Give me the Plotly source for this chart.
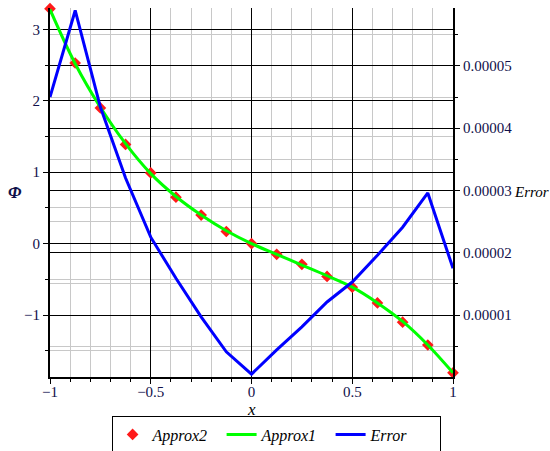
import plotly.graph_objects as go

xs = [-1, -0.875, -0.75, -0.625, -0.5, -0.375, -0.25, -0.125, 0,
      0.125, 0.25, 0.375, 0.5, 0.625, 0.75, 0.875, 1]
approx2 = [3.29, 2.53, 1.90, 1.39, 0.99, 0.65, 0.40, 0.17, 0.00,
           -0.15, -0.29, -0.46, -0.61, -0.83, -1.10, -1.42, -1.81]
approx1 = [3.28, 2.52, 1.91, 1.40, 0.98, 0.66, 0.40, 0.18, 0.00,
           -0.15, -0.30, -0.45, -0.61, -0.83, -1.09, -1.42, -1.81]
error = [4.50e-5, 5.89e-5, 4.34e-5, 3.20e-5, 2.25e-5, 1.59e-5, 0.97e-5, 0.41e-5, 0.05e-5,
         0.44e-5, 0.81e-5, 1.21e-5, 1.53e-5, 1.96e-5, 2.41e-5, 2.96e-5, 1.75e-5]

x_ticks = [-1, -0.5, 0, 0.5, 1]
x_tick_text = ["\u22121", "\u22120.5", "0", "0.5", "1"]
y_ticks = [-1, 0, 1, 2, 3]
y_tick_text = ["\u22121", "0", "1", "2", "3"]
y2_ticks = [1e-5, 2e-5, 3e-5, 4e-5, 5e-5]
y2_tick_text = ["0.00001", "0.00002", "0.00003", "0.00004", "0.00005"]

FONT = "Liberation Serif, Times New Roman, serif"
TXT = "#10104a"
TICKFONT = dict(family=FONT, size=15, color=TXT)

fig = go.Figure()
fig.add_trace(go.Scatter(x=xs, y=approx2, mode="markers", name="Approx2",
                         marker=dict(symbol="diamond", color="#ff1a1a", size=9),
                         cliponaxis=False))
fig.add_trace(go.Scatter(x=xs, y=approx1, mode="lines", name="Approx1",
                         line=dict(color="#00ff00", width=3, shape="spline")))
fig.add_trace(go.Scatter(x=xs, y=error, mode="lines", name="Error", yaxis="y2",
                         line=dict(color="#0000ff", width=3)))

grid_minor = "#c8c8c8"
fig.update_layout(
    width=550, height=451,
    margin=dict(l=50, r=97, t=8, b=74, autoexpand=False),
    paper_bgcolor="white", plot_bgcolor="white",
    font=dict(family=FONT, size=14, color=TXT),
    showlegend=True,
    legend=dict(orientation="h", xref="container", yref="container",
                x=0.502, xanchor="center", y=0.0366, yanchor="middle",
                bordercolor="black", borderwidth=1,
                font=dict(family=FONT, size=16, style="italic", color="black"),
                itemwidth=30, tracegroupgap=0, entrywidth=64, entrywidthmode="pixels"),
    xaxis=dict(range=[-1, 1], tickvals=x_ticks, ticktext=x_tick_text, tickfont=TICKFONT,
               showgrid=True, gridcolor="black", gridwidth=1, zeroline=False,
               showline=True, linecolor="black", linewidth=2,
               ticks="outside", ticklen=5, tickcolor="black", ticklabelstandoff=-5,
               minor=dict(dtick=0.1, tick0=-1, showgrid=True, gridcolor=grid_minor,
                          ticks="outside", ticklen=3, tickcolor="black")),
    yaxis=dict(range=[-1.868, 3.30], tickvals=y_ticks, ticktext=y_tick_text, tickfont=TICKFONT,
               showgrid=True, gridcolor="black", gridwidth=1, zeroline=False,
               showline=True, linecolor="black", linewidth=2,
               ticks="outside", ticklen=5, tickcolor="black",
               minor=dict(dtick=0.5, tick0=0, showgrid=True, gridcolor=grid_minor,
                          ticks="outside", ticklen=3, tickcolor="black")),
    yaxis2=dict(overlaying="y", side="right", range=[0.00000005, 0.0000593],
                tickvals=y2_ticks, ticktext=y2_tick_text, tickfont=TICKFONT,
                showgrid=True, gridcolor="black", gridwidth=1, zeroline=False,
                showline=True, linecolor="black", linewidth=2,
                ticks="outside", ticklen=5, tickcolor="black",
                minor=dict(dtick=0.5e-5, tick0=0, showgrid=True, gridcolor=grid_minor,
                           ticks="outside", ticklen=3, tickcolor="black")),
    annotations=[
        dict(text="\u03a6", xref="paper", yref="paper", x=-0.087, y=0.501,
             xanchor="center", yanchor="middle", showarrow=False,
             font=dict(family=FONT, size=17, weight="bold", style="italic", color=TXT)),
        dict(text="Error", xref="paper", yref="paper", x=1.195, y=0.501,
             xanchor="center", yanchor="middle", showarrow=False,
             font=dict(family=FONT, size=15, style="italic", color="black")),
        dict(text="x", xref="paper", yref="paper", x=0.5, y=-0.088,
             xanchor="center", yanchor="middle", showarrow=False,
             font=dict(family=FONT, size=17, style="italic", color="black")),
    ],
)

fig.write_html("out.html", config={"displayModeBar": False},
               post_script="document.body.style.margin='0px';")
